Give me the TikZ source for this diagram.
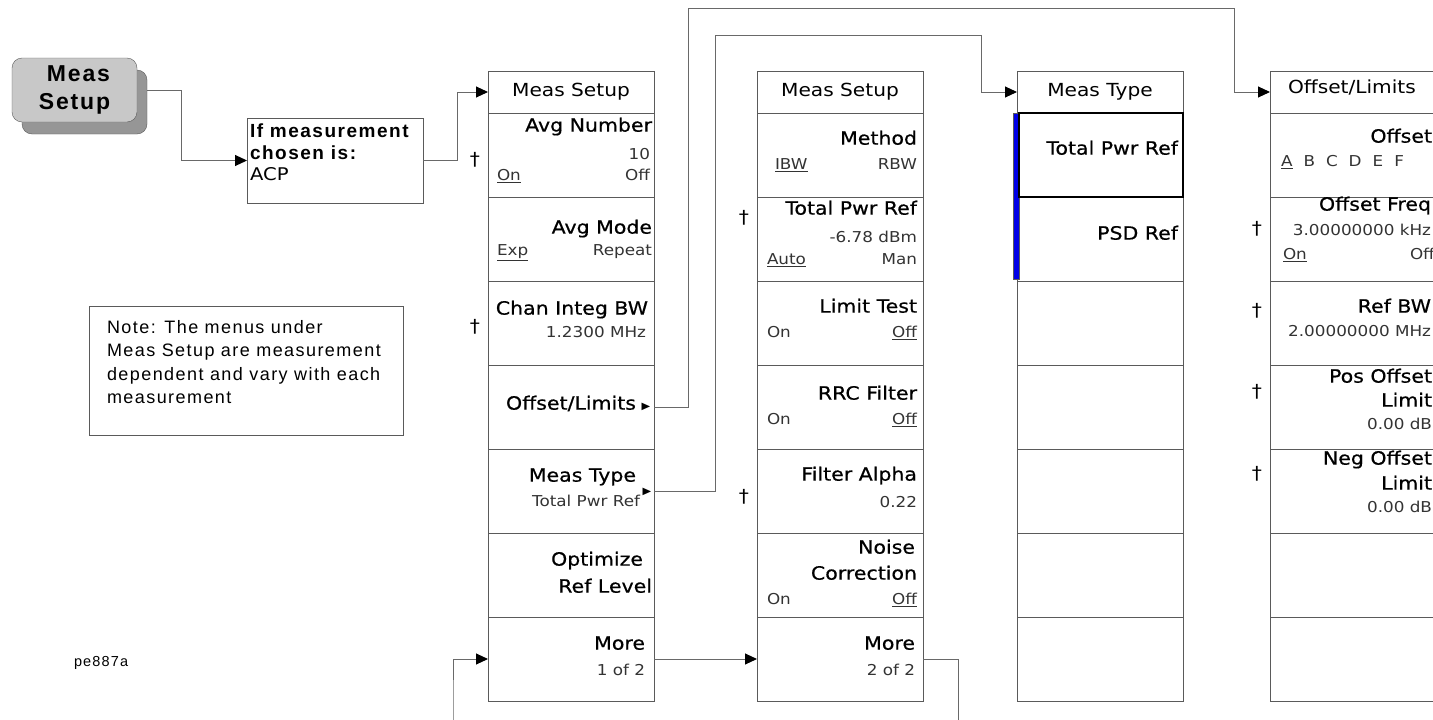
\documentclass[tikz,border=0pt]{standalone}
\usepackage{fontspec}
\setmainfont{Liberation Sans}
\newfontfamily\hp{DejaVu Sans}[FakeStretch=1.12]
\newfontfamily\hpm{DejaVu Sans}[FakeStretch=1.12,FakeBold=0.6]
\newfontfamily\arialw{Liberation Sans}[LetterSpace=8]
\usetikzlibrary{arrows.meta,calc}
\definecolor{keyface}{RGB}{200,200,200}
\definecolor{keyshade}{RGB}{150,150,150}
\definecolor{boxline}{RGB}{90,90,90}
\definecolor{connline}{RGB}{105,105,105}
\definecolor{selblue}{RGB}{0,0,230}
\begin{document}
\begin{tikzpicture}[x=1pt,y=-1pt,
  every node/.style={inner sep=0pt,outer sep=0pt},
  rowbox/.style={draw=boxline,line width=1pt,fill=white,minimum width=166pt,minimum height=84pt,anchor=north west},
  headbox/.style={rowbox,minimum height=42pt},
  hdr/.style={font=\hp\fontsize{18}{20}\selectfont},
  lbl/.style={font=\hpm\fontsize{18.3}{20}\selectfont,anchor=mid east},
  sub/.style={font=\hp\fontsize{15}{17}\selectfont,text=black!80,anchor=mid east},
  subl/.style={sub,anchor=mid west},
  tri/.style={font=\hp\fontsize{10}{12}\selectfont},
  dag/.style={font=\hp\fontsize{18}{20}\selectfont},
  conn/.style={draw=connline,line width=1pt},
  arr/.style={conn,-{Triangle[length=12pt,width=11pt,color=black]}},
  plainbox/.style={draw=boxline,line width=1pt,fill=white,anchor=north west}
]
\useasboundingbox (0,0) rectangle (1433,720);
\fill[white] (0,0) rectangle (1433,720);

% hard key
\node[draw=boxline,fill=keyshade,rounded corners=10pt,minimum width=125pt,minimum height=64pt,anchor=north west] (keysh) at (22,70) {};
\node[draw=boxline,fill=keyface,rounded corners=10pt,minimum width=125pt,minimum height=64pt,anchor=north west,align=center,
  font=\arialw\bfseries\fontsize{23}{28}\selectfont] (key) at (12,58) {\hspace{8pt}Meas\\Setup};

% condition box
\node[plainbox,minimum width=176pt,minimum height=85pt] (ifbox) at (247,118) {};
\node[anchor=north west,align=left,font=\arialw\fontsize{19}{21.5}\selectfont] (iftext) at (250,124)
  {\bfseries If measurement\\\bfseries chosen is:\\\hp\fontsize{17.5}{20}\selectfont ACP};

% note
\node[plainbox,minimum width=314pt,minimum height=129pt] (note) at (89,306) {};
\node[anchor=north west,align=left,font=\arialw\fontsize{18}{23.5}\selectfont] (notetext) at (107,320)
  {Note: The menus under\\Meas Setup are measurement\\dependent and vary with each\\measurement};
\node[font=\arialw\fontsize{14.5}{16}\selectfont,anchor=mid west] (tag) at (74,664) {pe887a};

% columns
\foreach \cc/\xx in {1/488,2/757,3/1017,4/1270}{
  \node[headbox] (h\cc) at (\xx,71) {};
  \foreach \rr in {1,...,7}{
    \pgfmathsetmacro\yy{113+84*(\rr-1)}
    \node[rowbox] (c\cc r\rr) at (\xx,\yy) {};
  }
}
\node[hdr] (ht1) at (h1.center) {Meas Setup};
\node[hdr] (ht2) at (h2.center) {Meas Setup};
\node[hdr] (ht3) at (h3.center) {Meas Type};
\node[hdr,anchor=mid west] (ht4) at (1288,91) {Offset/Limits};

% column 1
\node[lbl] (a1) at (652,129) {Avg Number};
\node[sub] (a2) at (650,157) {10};
\node[subl] (a3) at (497,178) {\underline{On}};
\node[sub] (a4) at (650,178) {Off};
\node[lbl] (b1) at (652,231) {Avg Mode};
\node[subl] (b2) at (497,253) {\underline{Exp}};
\node[sub] (b3) at (652,253) {Repeat};
\node[lbl] (d1) at (648,312) {Chan Integ BW};
\node[sub] (d2) at (646,335) {1.2300 MHz};
\node[lbl] (e1) at (636,407) {Offset/Limits};
\node[tri] (e2) at (646,407) {▶};
\node[lbl] (f1) at (636,479) {Meas Type};
\node[sub] (f2) at (640,504) {Total Pwr Ref};
\node[tri] (f3) at (647,492) {▶};
\node[lbl] (g1) at (643,563) {Optimize};
\node[lbl] (g2) at (652,590) {Ref Level};
\node[lbl] (m1) at (645,647) {More};
\node[sub] (m2) at (645,673) {1 of 2};

% column 2
\node[lbl] (n1) at (917,142) {Method};
\node[subl] (n2) at (775,167) {\underline{IBW}};
\node[sub] (n3) at (917,167) {RBW};
\node[lbl] (p1) at (917,212) {Total Pwr Ref};
\node[sub] (p2) at (917,240) {-6.78 dBm};
\node[subl] (p3) at (767,262) {\underline{Auto}};
\node[sub] (p4) at (917,262) {Man};
\node[lbl] (q1) at (917,310) {Limit Test};
\node[subl] (q2) at (767,335) {On};
\node[sub] (q3) at (917,335) {\underline{Off}};
\node[lbl] (s1) at (917,397) {RRC Filter};
\node[subl] (s2) at (767,422) {On};
\node[sub] (s3) at (917,422) {\underline{Off}};
\node[lbl] (u1) at (917,478) {Filter Alpha};
\node[sub] (u2) at (917,505) {0.22};
\node[lbl] (v1) at (915,551) {Noise};
\node[lbl] (v2) at (917,577) {Correction};
\node[subl] (v3) at (767,602) {On};
\node[sub] (v4) at (917,602) {\underline{Off}};
\node[lbl] (w1) at (915,647) {More};
\node[sub] (w2) at (915,673) {2 of 2};

% column 3
\fill[selblue,draw=boxline,line width=0.6pt] (1013,113) rectangle (1019,279);
\draw[black,line width=2pt] (1019,113) rectangle (1183,197);
\node[lbl] (x1) at (1178,152) {Total Pwr Ref};
\node[lbl] (x2) at (1178,237) {PSD Ref};

% column 4
\node[lbl] (y1) at (1432,140) {Offset};
\node[subl] (y2) at (1281,164) {\underline{A}\hspace{11pt}B\hspace{11pt}C\hspace{11pt}D\hspace{11pt}E\hspace{11pt}F};
\node[lbl] (y3) at (1431,208) {Offset Freq};
\node[sub] (y4) at (1431,233) {3.00000000 kHz};
\node[subl] (y5) at (1283,257) {\underline{On}};
\node[subl] (y6) at (1410,257) {Off};
\node[lbl] (y7) at (1431,310) {Ref BW};
\node[sub] (y8) at (1431,334) {2.00000000 MHz};
\node[lbl] (y9) at (1432,380) {Pos Offset};
\node[lbl] (y10) at (1432,404) {Limit};
\node[sub] (y11) at (1432,427) {0.00 dB};
\node[lbl] (y12) at (1432,462) {Neg Offset};
\node[lbl] (y13) at (1432,487) {Limit};
\node[sub] (y14) at (1432,510) {0.00 dB};

% daggers
\node[dag] (dg1) at (475,160) {†};
\node[dag] (dg2) at (475,327) {†};
\node[dag] (dg3) at (744,218) {†};
\node[dag] (dg4) at (744,497) {†};
\node[dag] (dg5) at (1257,229) {†};
\node[dag] (dg6) at (1257,311) {†};
\node[dag] (dg7) at (1257,392) {†};
\node[dag] (dg8) at (1257,474) {†};

% connectors
\draw[arr] (key.east -| keysh.east) -- ++(34,0) |- (ifbox.west);
\draw[arr] (ifbox.east) -- ++(34,0) |- (h1.west);
\draw[arr] (c1r4.east) -| (688,8) -| (1234,50) |- (h4.west);
\draw[arr] (c1r5.east) -| (715,35) -| (981,50) |- (h3.west);
\draw[arr] (c1r7.east) -- (c2r7.west);
\draw[arr] (c2r7.east) -| (958,740) -| (453,700) |- (c1r7.west);
\end{tikzpicture}
\end{document}
